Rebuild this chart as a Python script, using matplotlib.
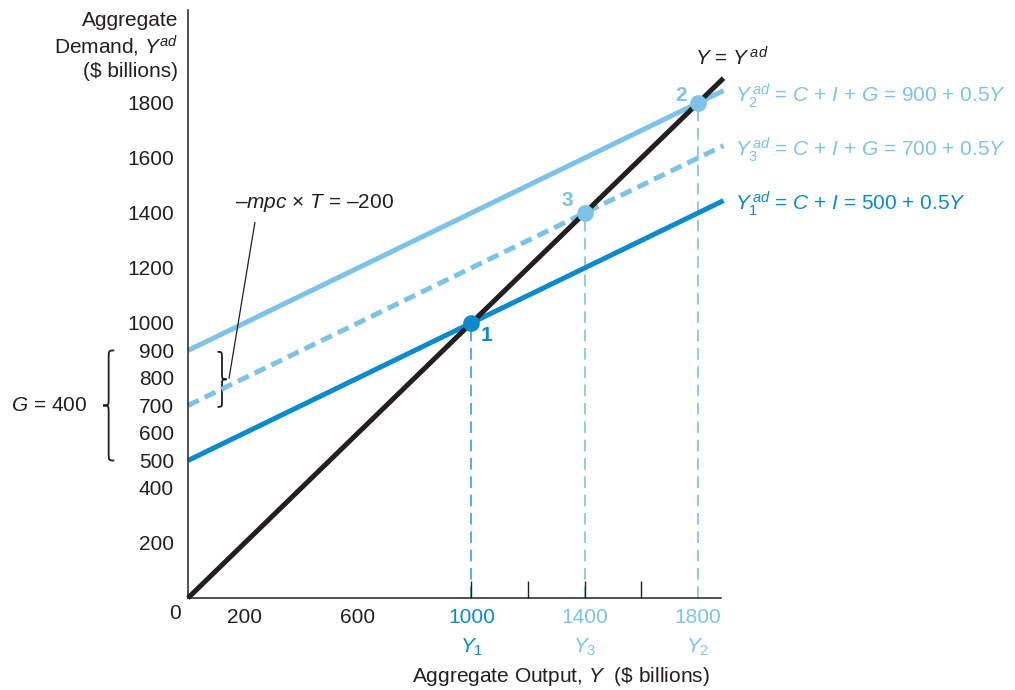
import matplotlib.pyplot as plt
from matplotlib.path import Path
from matplotlib.patches import PathPatch

plt.rcParams['font.family'] = ['Liberation Sans', 'DejaVu Sans']
plt.rcParams['mathtext.fontset'] = 'custom'
plt.rcParams['mathtext.rm'] = 'Liberation Sans'
plt.rcParams['mathtext.it'] = 'Liberation Sans:italic'
plt.rcParams['mathtext.bf'] = 'Liberation Sans:bold'

DARK = '#0a8bcd'
LIGHT = '#7cc3e7'
INK = '#231f20'
FS = 15

# data
line_x = [0, 1890]
y45 = [0, 1890]
y1_line = [500, 1445]
y2_line = [900, 1845]
y3_line = [700, 1645]
eq_x = [1000, 1400, 1800]
eq_y = [1000, 1400, 1800]
eq_names = ['1', '3', '2']
eq_colors = [DARK, LIGHT, LIGHT]
ytick_vals = [200, 400, 500, 600, 700, 800, 900, 1000, 1200, 1400, 1600, 1800]
xtick_vals = [200, 600, 1000, 1400, 1800]
xtick_cols = [INK, INK, DARK, LIGHT, LIGHT]
x_inner_ticks = [1000, 1200, 1400, 1600]
y_inner_ticks = [500, 700]
y_sub = ['$Y_1$', '$Y_3$', '$Y_2$']

fig = plt.figure(figsize=(10.15, 6.9), dpi=100)
ax = fig.add_axes([188 / 1015, 92 / 690, 532.7 / 1015, 588 / 690])
ax.set_xlim(0, 1880)
ax.set_ylim(0, 2138)
for s in ['top', 'right']:
    ax.spines[s].set_visible(False)
for s in ['left', 'bottom']:
    ax.spines[s].set_color(INK)
    ax.spines[s].set_linewidth(1.1)

ax.set_yticks(ytick_vals)
ax.set_yticklabels([str(v) for v in ytick_vals], fontsize=FS, color=INK)
ax.tick_params(axis='y', length=0, pad=10)
ax.set_yticks(y_inner_ticks, minor=True)
ax.tick_params(axis='y', which='minor', direction='in', length=12, width=1, color=INK)
ax.set_xticks([])
ax.set_xticks(x_inner_ticks, minor=True)
ax.tick_params(axis='x', which='minor', direction='in', length=12, width=1, color=INK)

# lines
ax.plot(line_x, y45, color=INK, lw=3.6, solid_capstyle='butt', clip_on=False, zorder=3)
ax.plot(line_x, y1_line, color=DARK, lw=3.6, solid_capstyle='butt', clip_on=False, zorder=2)
ax.plot(line_x, y2_line, color=LIGHT, lw=3.6, solid_capstyle='butt', clip_on=False, zorder=2)
ax.plot(line_x, y3_line, color=LIGHT, lw=3.6, dashes=(2.4, 1.3), clip_on=False, zorder=2)

vcols = ['#3a9fd6', LIGHT, LIGHT]
for x, y, c in zip(eq_x, eq_y, vcols):
    ax.plot([x, x], [0, y], color=c, lw=1.2, dashes=(7, 4), zorder=1)
for x, y, c in zip(eq_x, eq_y, eq_colors):
    ax.plot(x, y, 'o', ms=11, color=c, zorder=5)
offs = {'1': (55, -45), '3': (-60, 45), '2': (-60, 28)}
for x, y, n, c in zip(eq_x, eq_y, eq_names, eq_colors):
    dx, dy = offs[n]
    ax.text(x + dx, y + dy, n, color=c, fontsize=FS, fontweight='bold', ha='center', va='center')

# x tick labels
for v, c, s in zip(xtick_vals, xtick_cols, [None, None] + y_sub):
    ax.text(v, -70, str(v), color=c, fontsize=FS, ha='center', va='center')
    if s:
        ax.text(v, -180, s, color=c, fontsize=FS, ha='center', va='center')
ax.text(-45, -55, '0', color=INK, fontsize=FS, ha='center', va='center')

fig.text(710 / 1015, 1 - 677 / 690, 'Aggregate Output, $Y$  (\\$ billions)', fontsize=FS,
         ha='right', va='center', color=INK)
fig.text(178 / 1015, 1 - 46 / 690, 'Aggregate\nDemand, $Y^{ad}$\n(\\$ billions)', fontsize=FS,
         ha='right', va='center', color=INK, linespacing=1.2)

# line labels
ax.text(1790, 1965, '$Y$ = $Y^{\\,ad}$', fontsize=FS, color=INK, ha='left', va='center')
ax.text(1930, 1825, '$Y_2^{\\,ad}$ = $C$ + $I$ + $G$ = 900 + 0.5$Y$', fontsize=FS, color=LIGHT,
        ha='left', va='center', clip_on=False)
ax.text(1930, 1630, '$Y_3^{\\,ad}$ = $C$ + $I$ + $G$ = 700 + 0.5$Y$', fontsize=FS, color=LIGHT,
        ha='left', va='center', clip_on=False)
ax.text(1930, 1435, '$Y_1^{\\,ad}$ = $C$ + $I$ = 500 + 0.5$Y$', fontsize=FS, color=DARK,
        ha='left', va='center', clip_on=False)


def brace(x, ybot, ytop, w, r, left=True):
    s = -1 if left else 1
    ym = (ybot + ytop) / 2
    verts = [(x - s * w / 2, ytop), (x, ytop), (x, ytop), (x, ytop - r),
             (x, ym + r), (x, ym), (x, ym), (x + s * w / 2, ym),
             (x, ym), (x, ym), (x, ym - r),
             (x, ybot + r), (x, ybot), (x, ybot), (x - s * w / 2, ybot)]
    codes = [Path.MOVETO, Path.CURVE4, Path.CURVE4, Path.CURVE4,
             Path.LINETO, Path.CURVE4, Path.CURVE4, Path.CURVE4,
             Path.CURVE4, Path.CURVE4, Path.CURVE4,
             Path.LINETO, Path.CURVE4, Path.CURVE4, Path.CURVE4]
    ax.add_patch(PathPatch(Path(verts, codes), fill=False, lw=1.3, color=INK, clip_on=False))


brace(-280, 500, 900, 40, 30, left=True)
brace(120, 695, 895, 32, 25, left=False)
ax.text(-355, 700, '$G$ = 400', fontsize=FS, ha='right', va='center', color=INK)

ax.text(165, 1437, '–$mpc$ × $T$ = –200', fontsize=FS, ha='left', va='center', color=INK)
ax.plot([236, 145], [1365, 800], color=INK, lw=0.9)

fig.savefig('out.png', dpi=100)
